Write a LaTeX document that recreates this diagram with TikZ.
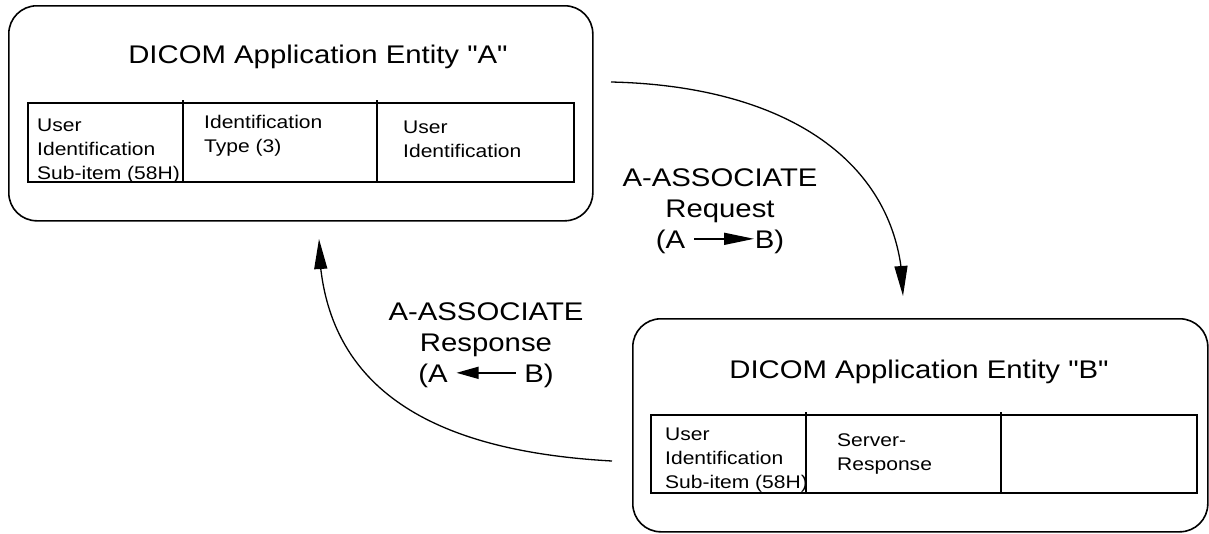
\documentclass[tikz,border=0pt]{standalone}
\usepackage{fontspec}
\setmainfont{Liberation Sans}[FakeStretch=1.15, Ligatures=TeXOff]
\usepackage{tikz}
\usetikzlibrary{arrows.meta, bending, positioning}
\tikzset{>={Triangle[length=30pt,width=13pt]}}
\newcommand{\bigtxt}{\fontsize{25.5}{31}\selectfont}
\newcommand{\smalltxt}{\fontsize{18.3}{24}\selectfont}
\newcommand{\rarr}{\tikz[baseline=-0.36em]\draw[-{Triangle[length=30pt,width=12pt]},line width=1.4pt] (0,0) -- (60pt,0);}
\newcommand{\larr}{\tikz[baseline=-0.36em]\draw[{Triangle[length=22pt,width=12pt]}-,line width=1.4pt] (0,0) -- (59pt,0);}

\begin{document}
\begin{tikzpicture}[x=1pt,y=-1pt,
	entity/.style={draw, line width=1.6pt, rounded corners=28pt, anchor=north west, inner sep=0pt},
	title/.style={anchor=base, font=\bigtxt, inner sep=0pt},
	cell/.style={anchor=base west, align=left, font=\smalltxt, inner sep=0pt},
	msg/.style={anchor=base, align=center, font=\bigtxt, inner sep=0pt},
	flow/.style={->, line width=1.3pt}]
	\useasboundingbox (0,0) rectangle (1209,533);
	% entity A
	\node[entity, minimum width=584pt, minimum height=215pt] (entA) at (8,5) {};
	\node[title] (titleA) at (318,63) {DICOM Application Entity "A"};
	\draw[line width=1.6pt] (28,103) rectangle (574,182);
	\draw[line width=1.2pt] (183,100) -- (183,182);
	\draw[line width=1.2pt] (377,100) -- (377,182);
	\node[cell] (itemA) at (37,179) {User\\Identification\\Sub-item (58H)};
	\node[cell] (typeA) at (204,152) {Identification\\Type (3)};
	\node[cell] (userA) at (403,157) {User\\Identification};
	% entity B
	\node[entity, minimum width=575pt, minimum height=213pt] (entB) at (632,318) {};
	\node[title] (titleB) at (919,378) {DICOM Application Entity "B"};
	\draw[line width=1.6pt] (651,415) rectangle (1197,493);
	\draw[line width=1.2pt] (806,412) -- (806,493);
	\draw[line width=1.2pt] (1001,412) -- (1001,493);
	\node[cell] (itemB) at (665,488) {User\\Identification\\Sub-item (58H)};
	\node[cell] (srvB) at (837,470) {Server-\\Response};
	% messages
	\coordinate (reqA) at (611,82);
	\coordinate (reqB) at (903,296);
	\draw[flow] (reqA) .. controls (790,86) and (903,165) .. (reqB);
	\node[msg] (req) at (720,248) {A-ASSOCIATE\\Request\\(A \rarr{}B)};
	\coordinate (resB) at (612,461);
	\coordinate (resA) at (319,239);
	\draw[flow] (resB) .. controls (450,452) and (320,400) .. (resA);
	\node[msg] (res) at (486,382) {A-ASSOCIATE\\Response\\(A \larr{} B)};
\end{tikzpicture}
\end{document}
